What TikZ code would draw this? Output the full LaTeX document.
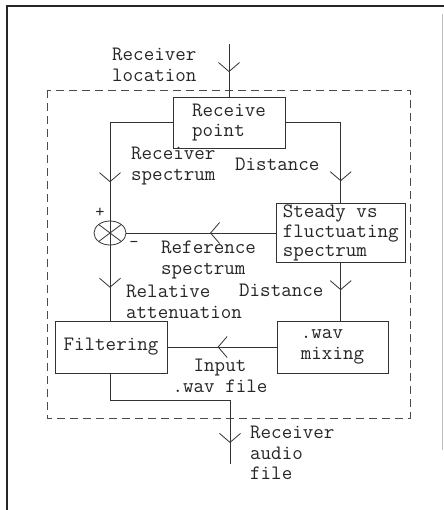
\documentclass[tikz,border=0pt]{standalone}
\usepackage{tikz}
\usetikzlibrary{arrows.meta,decorations.markings,shapes.geometric}
\tikzstyle{blk}=[rectangle, draw=black!80, line width=0.8bp, align=left, inner sep=1bp]
\tikzstyle{lbl}=[align=left, inner sep=0pt, anchor=west]
\tikzstyle{sgn}=[inner sep=0pt, font=\ttfamily\fontsize{18}{18}\selectfont]
\tikzstyle{sig}=[draw=black!80, line width=0.8bp]
\tikzstyle{junc}=[ellipse, draw=black!80, line width=0.8bp, minimum width=32bp, minimum height=24bp, inner sep=0pt,
        path picture={\draw[black!80, line width=0.8bp] (path picture bounding box.north west) -- (path picture bounding box.south east)
        (path picture bounding box.south west) -- (path picture bounding box.north east);}]
\tikzset{vmark/.style={postaction={decorate}, decoration={markings,
        mark=at position #1 with {\arrow{Straight Barb[length=9bp,width=21bp]}}}}}

\begin{document}
\begin{tikzpicture}[x=1bp, y=-1bp, text=black!85, font=\ttfamily\fontsize{20.5}{20.5}\selectfont]
\useasboundingbox (0,0) rectangle (444,510);
% frame and dashed boundary
\draw [black!85, line width=2bp] (7,510) -- (7,6) -- (444,6);
\draw [black!25, line width=0.6bp] (442,14) -- (442,450);
\draw [black!70, line width=0.8bp, dash pattern=on 8bp off 5bp] (47,90) rectangle (410,418);

\node [blk, minimum width=112bp, minimum height=51bp] (recv) at (229,122.8) {Receive\\point};
\node [blk, minimum width=129bp, minimum height=59.5bp, font=\ttfamily\fontsize{20.5}{19.6}\selectfont] (steady) at (340.7,233) {Steady vs\\fluctuating\\spectrum};
\node [blk, minimum width=112bp, minimum height=52bp] (filt) at (111,347) {Filtering};
\node [blk, minimum width=111bp, minimum height=52bp] (mix) at (332.5,347) {.wav\\mixing};
\node [junc] (circ) at (110,233) {};
\coordinate (src) at (229,44);
\coordinate (snk) at (230,464);

\draw [sig, vmark=0.53] (src) -- (recv.north);
\draw [sig, vmark=0.706] (recv.west) -| (circ.center);
\draw [sig, vmark=0.625] (circ.center) -- (circ.center |- filt.north);
\draw [sig, vmark=0.84] (recv.east) -| (steady.north);
\draw [sig, vmark=0.44] (steady.west) -- (circ.east);
\draw [sig, vmark=0.47] (steady.south) -- (steady.south |- mix.north);
\draw [sig, vmark=0.54] (mix.west) -- (filt.east);
\draw [sig, vmark=0.9] (circ.center |- filt.south) -- ++(0,27) -| (snk);

% labels
\node [lbl] (lblloc) at (112,65) {Receiver\\location};
\node [lbl] (lblrs) at (131,166) {Receiver\\spectrum};
\node [lbl] (lbldtop) at (235,164) {Distance};
\node [sgn] (lblplus) at (100,213) {+};
\node [sgn] (lblminus) at (134,244) {\textendash};
\node [lbl] (lblref) at (161,260) {Reference\\spectrum};
\node [lbl] (lbldlow) at (239,290) {Distance};
\node [lbl] (lblrel) at (126,302) {Relative\\attenuation};
\node [align=center, inner sep=0pt] (lblin) at (220,376) {Input\\.wav file};
\node [lbl] (lblout) at (250,453) {Receiver\\audio\\file};
\end{tikzpicture}
\end{document}
